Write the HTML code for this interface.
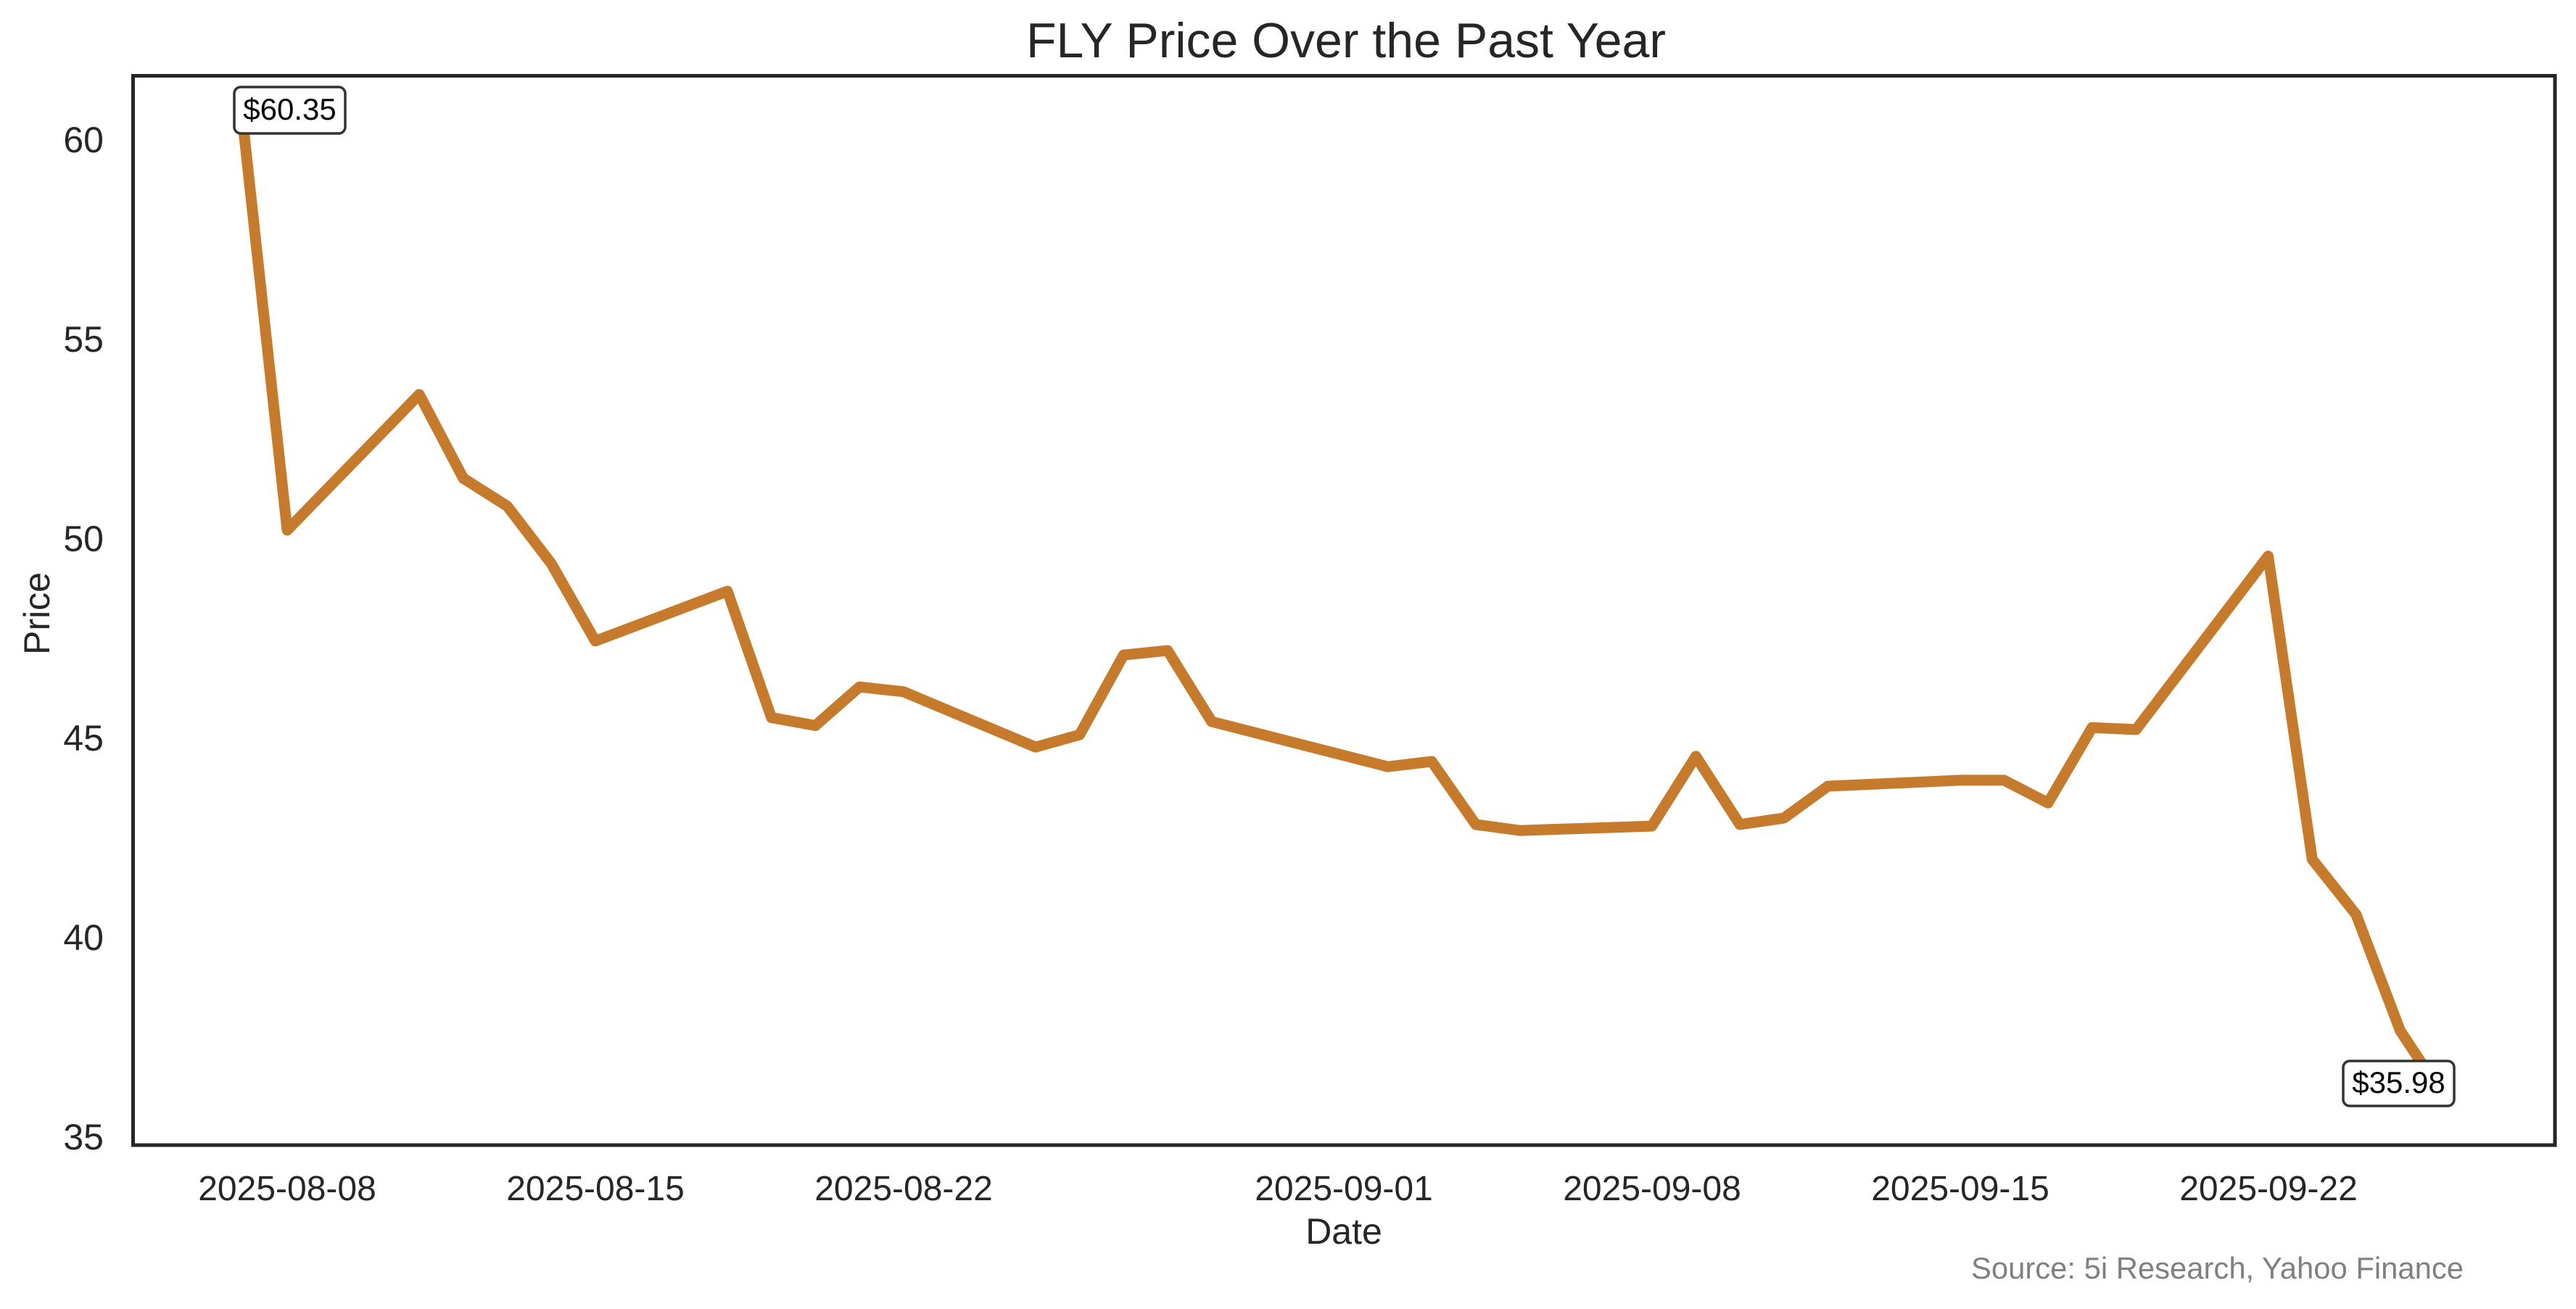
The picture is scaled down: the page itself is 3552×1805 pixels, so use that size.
<!DOCTYPE html>
<html><head><meta charset="utf-8"><style>html,body{margin:0;padding:0;background:#fff}svg{display:block}</style></head>
<body>
<svg width="3552" height="1805" viewBox="0 0 3552 1805" xmlns="http://www.w3.org/2000/svg" font-family="'Liberation Sans', Arial, sans-serif">
<rect width="3552" height="1805" fill="#fff"/>
<text x="1856" y="79" font-size="68" text-anchor="middle" fill="#262626">FLY Price Over the Past Year</text>
<polyline fill="none" stroke="#c67a2b" stroke-width="15" stroke-linejoin="round" stroke-linecap="round" points="335.3,172.8 396,731 578.1,544 638.8,659.5 699.5,698 760.2,777.2 820.9,883.9 1003,815.2 1063.7,989.5 1124.4,1000.5 1185.1,947.2 1245.8,953.8 1427.9,1030.2 1488.6,1013.2 1549.3,903.2 1610,897.1 1670.7,995 1913.5,1057.2 1974.2,1050 2034.9,1136.9 2095.6,1145.2 2277.7,1139.1 2338.4,1042.9 2399.1,1136.9 2459.8,1128.1 2520.5,1084.1 2702.6,1075.9 2763.3,1075.9 2824,1107.2 2884.7,1003.3 2945.4,1006 3127.5,766.8 3188.2,1184.8 3248.9,1261.2 3309.6,1421.3 3370.3,1513.1"/>
<rect x="183.5" y="104.5" width="3339.5" height="1474.5" fill="none" stroke="#262626" stroke-width="5"/>
<g font-size="50" fill="#262626" text-anchor="end">
<text x="143" y="210">60</text>
<text x="143" y="485">55</text>
<text x="143" y="760">50</text>
<text x="143" y="1035">45</text>
<text x="143" y="1310">40</text>
<text x="143" y="1585">35</text>
</g>
<g font-size="48" fill="#262626" text-anchor="middle">
<text x="396" y="1655">2025-08-08</text>
<text x="821" y="1655">2025-08-15</text>
<text x="1246" y="1655">2025-08-22</text>
<text x="1853" y="1655">2025-09-01</text>
<text x="2278" y="1655">2025-09-08</text>
<text x="2703" y="1655">2025-09-15</text>
<text x="3128" y="1655">2025-09-22</text>
</g>
<text x="1853" y="1715" font-size="50" text-anchor="middle" fill="#262626">Date</text>
<text transform="translate(68,846) rotate(-90)" font-size="50" text-anchor="middle" fill="#262626">Price</text>
<text x="3397" y="1763" font-size="42" text-anchor="end" fill="#808080" textLength="679" lengthAdjust="spacingAndGlyphs">Source: 5i Research, Yahoo Finance</text>
<rect x="323" y="120" width="153" height="64" rx="9" fill="#fff" stroke="#333" stroke-width="3.5"/>
<text x="399.5" y="165" font-size="42" text-anchor="middle" fill="#000">$60.35</text>
<rect x="3231" y="1463" width="153" height="62" rx="9" fill="#fff" stroke="#333" stroke-width="3.5"/>
<text x="3307.5" y="1507" font-size="42" text-anchor="middle" fill="#000">$35.98</text>
</svg>
</body></html>
